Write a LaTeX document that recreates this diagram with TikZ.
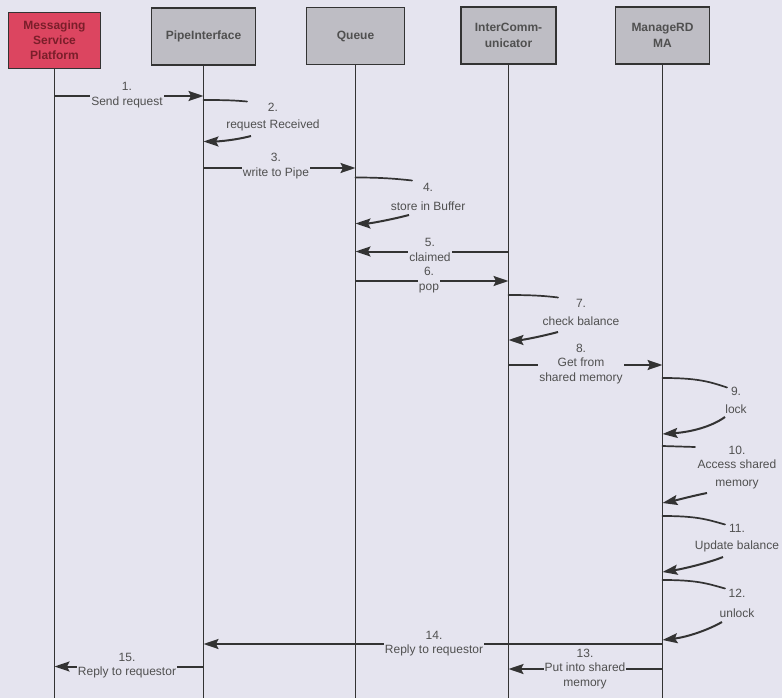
\documentclass[tikz,border=0pt]{standalone}
\usepackage{fontspec}
\setmainfont{Liberation Sans}
\usetikzlibrary{arrows.meta}

\definecolor{paper}{HTML}{E5E4EF}
\definecolor{actorgrey}{HTML}{BEBDC4}
\definecolor{actorred}{HTML}{DC4560}
\definecolor{ink}{HTML}{333333}
\definecolor{labelink}{HTML}{505050}
\definecolor{redink}{HTML}{7A1E2A}

\tikzset{
  actor/.style={draw=ink, line width=1.3pt, fill=actorgrey, minimum width=94pt,
    minimum height=57pt, align=center, inner sep=0pt, text=labelink,
    font=\fontsize{12}{16}\selectfont\bfseries},
  lifeline/.style={draw=ink, line width=1.6pt},
  msg/.style={draw=ink, line width=2pt, -{Stealth[length=15pt,width=10pt,inset=2.5pt]}},
  stroke/.style={draw=ink, line width=1.7pt, line cap=round},
  lbl/.style={fill=paper, inner sep=1pt, align=center, text=labelink,
    font=\fontsize{12}{14.5}\selectfont},
  note/.style={inner sep=1pt, align=center, text=labelink,
    font=\fontsize{12}{17.5}\selectfont},
}

% point on the lifeline of actor #2 at height #3
\newcommand\onlife[3]{\coordinate (#1) at (#2.south |- 0,#3);}

\begin{document}
\begin{tikzpicture}[x=1pt,y=-1pt]
\useasboundingbox (0,0) rectangle (782,698);
\fill[paper] (0,0) rectangle (782,698);

% actors
\node[actor, fill=actorred, text=redink, minimum width=92pt, minimum height=56pt,
      font=\fontsize{12}{15}\selectfont\bfseries] (msp) at (54.5,40.5) {Messaging\\Service\\Platform};
\node[actor, minimum width=104pt] (pipe) at (203.5,36.5) {PipeInterface};
\node[actor, minimum width=98pt] (queue) at (355.5,36) {Queue};
\node[actor, minimum width=95pt] (inter) at (508.5,35.5) {InterComm-\\unicator};
\node[actor] (rdma) at (662.5,35.5) {ManageRD\\MA};

% lifelines
\foreach \a in {msp,pipe,queue,inter,rdma}{
  \coordinate (\a-end) at (\a.south |- 0,698);
  \draw[lifeline] (\a.south) -- (\a-end);
}

% 1. Send request
\onlife{m1a}{msp}{96} \onlife{m1b}{pipe}{96}
\draw[msg] (m1a) -- (m1b);
\node[lbl] (l1) at (127,95) {1.\\Send request};

% 2. request Received (self call)
\onlife{s2a}{pipe}{100} \coordinate (s2b) at (247,101.5);
\coordinate (s2c) at (251,136); \onlife{s2d}{pipe}{141.5}
\draw[stroke] (s2a) .. controls +(25,0) and +(-12,-1) .. (s2b);
\draw[msg] (s2c) .. controls +(-15,4) and +(15,0) .. (s2d);
\node[note] (l2) at (273,117) {2.\\request Received};

% 3. write to Pipe
\onlife{m3a}{pipe}{168} \onlife{m3b}{queue}{168}
\draw[msg] (m3a) -- (m3b);
\node[lbl] (l3) at (276,166) {3.\\write to Pipe};

% 4. store in Buffer (self call)
\onlife{s4a}{queue}{177.5} \coordinate (s4b) at (412,180.5);
\coordinate (s4c) at (409,215); \onlife{s4d}{queue}{223.5}
\draw[stroke] (s4a) .. controls +(28,0) and +(-14,-1.5) .. (s4b);
\draw[msg] (s4c) .. controls +(-15,4) and +(15,0) .. (s4d);
\node[note] (l4) at (428,196.5) {4.\\[1.5pt]store in Buffer};

% 5. claimed
\onlife{m5a}{inter}{251.5} \onlife{m5b}{queue}{251.5}
\draw[msg] (m5a) -- (m5b);
\node[lbl] (l5) at (430,250) {5.\\claimed};

% 6. pop
\onlife{m6a}{queue}{281} \onlife{m6b}{inter}{281}
\draw[msg] (m6a) -- (m6b);
\node[lbl] (l6) at (429,280) {6.\\pop};

% 7. check balance (self call)
\onlife{s7a}{inter}{295} \coordinate (s7b) at (558,297.5);
\coordinate (s7c) at (558,332); \onlife{s7d}{inter}{340}
\draw[stroke] (s7a) .. controls +(25,0) and +(-12,-1.5) .. (s7b);
\draw[msg] (s7c) .. controls +(-15,4) and +(15,0) .. (s7d);
\node[note] (l7) at (581,312.5) {7.\\check balance};

% 8. Get from shared memory
\onlife{m8a}{inter}{365} \onlife{m8b}{rdma}{365}
\draw[msg] (m8a) -- (m8b);
\node[lbl] (l8) at (581,364) {8.\\Get from\\shared memory};

% 9. lock (self call)
\onlife{s9a}{rdma}{378} \coordinate (s9b) at (727,387.5);
\coordinate (s9c) at (725,417); \onlife{s9d}{rdma}{434}
\draw[stroke] (s9a) .. controls +(35,0) and +(-18,-6) .. (s9b);
\draw[msg] (s9c) .. controls +(-14,10) and +(28,-2) .. (s9d);
\node[note] (l9) at (736,400.5) {9.\\lock};

% 10. Access shared memory (self call)
\onlife{s10a}{rdma}{446} \coordinate (s10b) at (695,447);
\coordinate (s10c) at (707,493); \onlife{s10d}{rdma}{503}
\draw[stroke] (s10a) -- (s10b);
\draw[msg] (s10c) .. controls +(-15,3) and +(15,-3) .. (s10d);
\node[lbl, fill=none] (l10) at (737,467.5) {10.\\Access shared\\[3pt]memory};

% 11. Update balance (self call)
\onlife{s11a}{rdma}{516} \coordinate (s11b) at (725,524.5);
\coordinate (s11c) at (723,557); \onlife{s11d}{rdma}{572}
\draw[stroke] (s11a) .. controls +(35,0) and +(-18,-5) .. (s11b);
\draw[msg] (s11c) .. controls +(-15,6) and +(20,-3) .. (s11d);
\node[note] (l11) at (737,538) {11.\\Update balance};

% 12. unlock (self call)
\onlife{s12a}{rdma}{580} \coordinate (s12b) at (725,588.5);
\coordinate (s12c) at (722,622); \onlife{s12d}{rdma}{640}
\draw[stroke] (s12a) .. controls +(35,0) and +(-18,-5) .. (s12b);
\draw[msg] (s12c) .. controls +(-14,8) and +(25,-3) .. (s12d);
\node[note] (l12) at (737,603) {12.\\[2.5pt]unlock};

% 14. Reply to requestor
\onlife{m14a}{rdma}{644} \onlife{m14b}{pipe}{644}
\draw[msg] (m14a) -- (m14b);
\node[lbl] (l14) at (434,643.5) {14.\\Reply to requestor};

% 13. Put into shared memory
\onlife{m13a}{rdma}{669} \onlife{m13b}{inter}{669}
\draw[msg] (m13a) -- (m13b);
\node[lbl] (l13) at (585,669) {13.\\Put into shared\\memory};

% 15. Reply to requestor
\onlife{m15a}{pipe}{666.5} \onlife{m15b}{msp}{666.5}
\draw[msg] (m15a) -- (m15b);
\node[lbl] (l15) at (127,665.5) {15.\\Reply to requestor};
\end{tikzpicture}
\end{document}
